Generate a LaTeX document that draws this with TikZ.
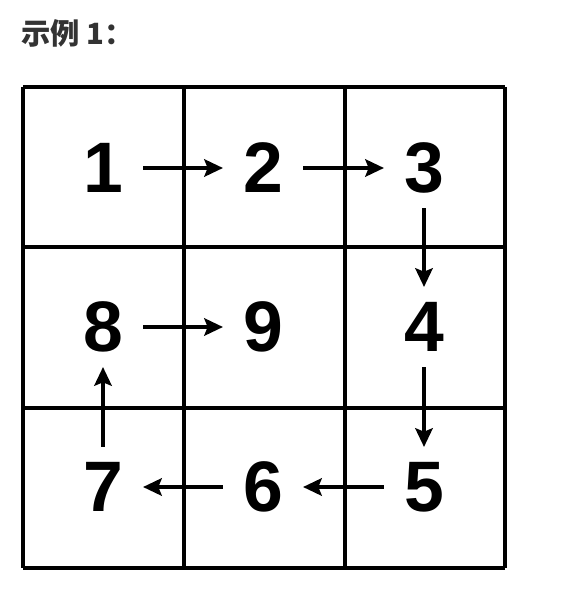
\documentclass[tikz,border=0pt]{standalone}
\usepackage{fontspec}
\setmainfont{Liberation Sans}
\newfontfamily\cjk{Noto Sans CJK SC}
\tikzset{
  num/.style={circle, minimum size=68, inner sep=0pt, font=\fontsize{61}{61}\selectfont\bfseries},
  cellline/.style={line width=3pt},
  step arrow/.style={draw, line width=2.7pt, -{Stealth[length=16pt,width=15pt,inset=3pt]}}
}
\usetikzlibrary{arrows.meta}
\begin{document}
\begin{tikzpicture}[x=0.03cm, y=-0.03cm]
\useasboundingbox (0,0) rectangle (564,590);
\node[anchor=west, inner sep=0pt, text=black!80, font=\cjk\bfseries\fontsize{25}{25}\selectfont] (title) at (21,33) {示例 1：};

% grid
\foreach \x in {23,184,345,505}
  \draw[cellline] (\x,87) -- (\x,568);
\foreach \y in {87,247,408,568}
  \draw[cellline] (23,\y) -- (505,\y);

\node[num] (1) at (103,168) {1};
\node[num] (2) at (263,168) {2};
\node[num] (3) at (424,168) {3};
\node[num] (8) at (103,327) {8};
\node[num] (9) at (263,327) {9};
\node[num] (4) at (424,327) {4};
\node[num] (7) at (103,487) {7};
\node[num] (6) at (263,487) {6};
\node[num] (5) at (424,487) {5};

\path[step arrow] (1) -- (2);
\path[step arrow] (2) -- (3);
\path[step arrow] (3) -- (4);
\path[step arrow] (4) -- (5);
\path[step arrow] (5) -- (6);
\path[step arrow] (6) -- (7);
\path[step arrow] (7) -- (8);
\path[step arrow] (8) -- (9);
\end{tikzpicture}
\end{document}
